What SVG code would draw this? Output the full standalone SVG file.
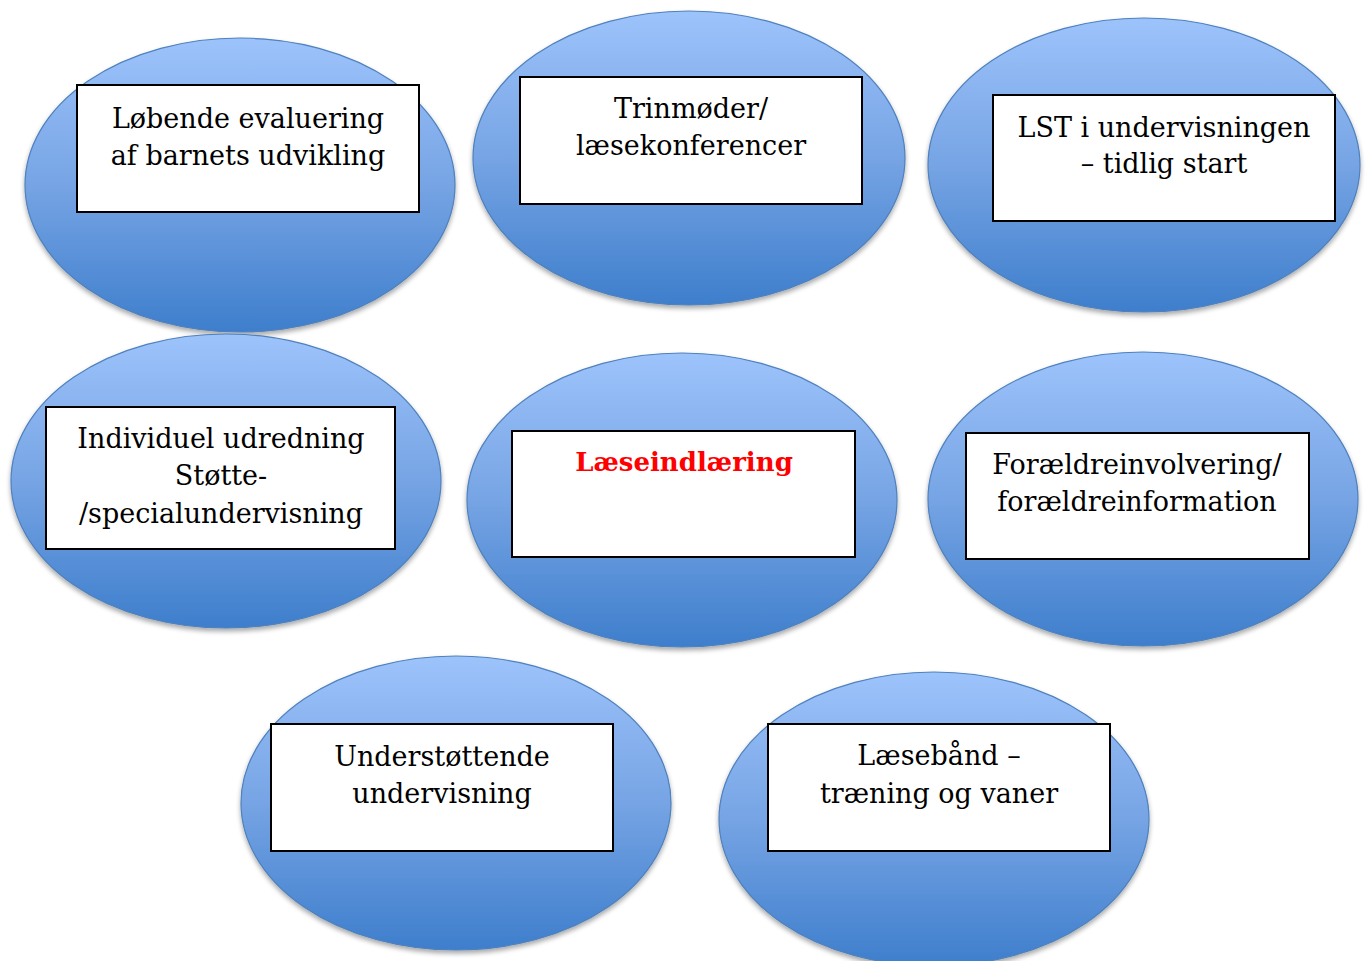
<svg xmlns="http://www.w3.org/2000/svg" width="1366" height="961" viewBox="0 0 1366 961">
<defs>
<linearGradient id="g" x1="0" y1="0" x2="0" y2="1">
<stop offset="0" stop-color="#9DC3FB"/>
<stop offset="0.5" stop-color="#76A4E4"/>
<stop offset="1" stop-color="#3E7ECC"/>
</linearGradient>
<filter id="sh" x="-10%" y="-10%" width="120%" height="125%">
<feGaussianBlur in="SourceAlpha" stdDeviation="2.5"/>
<feOffset dy="3"/>
<feComponentTransfer><feFuncA type="linear" slope="0.35"/></feComponentTransfer>
<feMerge><feMergeNode/><feMergeNode in="SourceGraphic"/></feMerge>
</filter>
</defs>
<style>
.e{fill:url(#g);stroke:#4F81BD;stroke-width:1.2;filter:url(#sh)}
.b{fill:#fff;stroke:#000;stroke-width:2}
.t{font-family:"DejaVu Serif",serif;font-size:27px;fill:#000;text-anchor:middle}
.r{font-weight:bold;fill:#FF0000;font-size:26px}
</style>
<rect width="1366" height="961" fill="#fff"/>
<g id="n1"><ellipse class="e" cx="240" cy="185" rx="215" ry="147"/><rect class="b" x="77" y="85" width="342" height="127"/><text class="t" x="248" y="128">Løbende evaluering</text><text class="t" x="248" y="165">af barnets udvikling</text></g>
<g id="n2"><ellipse class="e" cx="689" cy="158" rx="216" ry="147"/><rect class="b" x="520" y="77" width="342" height="127"/><text class="t" x="691" y="118">Trinmøder/</text><text class="t" x="691" y="155">læsekonferencer</text></g>
<g id="n3"><ellipse class="e" cx="1144" cy="165" rx="216" ry="147"/><rect class="b" x="993" y="95" width="342" height="126"/><text class="t" x="1164" y="137">LST i undervisningen</text><text class="t" x="1164" y="173">– tidlig start</text></g>
<g id="n4"><ellipse class="e" cx="226" cy="481" rx="215" ry="147"/><rect class="b" x="46" y="407" width="349" height="142"/><text class="t" x="221" y="448">Individuel udredning</text><text class="t" x="221" y="485">Støtte-</text><text class="t" x="221" y="523">/specialundervisning</text></g>
<g id="n5"><ellipse class="e" cx="682" cy="500" rx="215" ry="147"/><rect class="b" x="512" y="431" width="343" height="126"/><text class="t r" x="684" y="471">Læseindlæring</text></g>
<g id="n6"><ellipse class="e" cx="1143" cy="499" rx="215" ry="147"/><rect class="b" x="966" y="433" width="343" height="126"/><text class="t" x="1137" y="474">Forældreinvolvering/</text><text class="t" x="1137" y="511">forældreinformation</text></g>
<g id="n7"><ellipse class="e" cx="456" cy="803" rx="215" ry="147"/><rect class="b" x="271" y="724" width="342" height="127"/><text class="t" x="442" y="766">Understøttende</text><text class="t" x="442" y="803">undervisning</text></g>
<g id="n8"><ellipse class="e" cx="934" cy="819" rx="215" ry="147"/><rect class="b" x="768" y="724" width="342" height="127"/><text class="t" x="939" y="765">Læsebånd –</text><text class="t" x="939" y="803">træning og vaner</text></g>
<g id="connectors"/>
</svg>
